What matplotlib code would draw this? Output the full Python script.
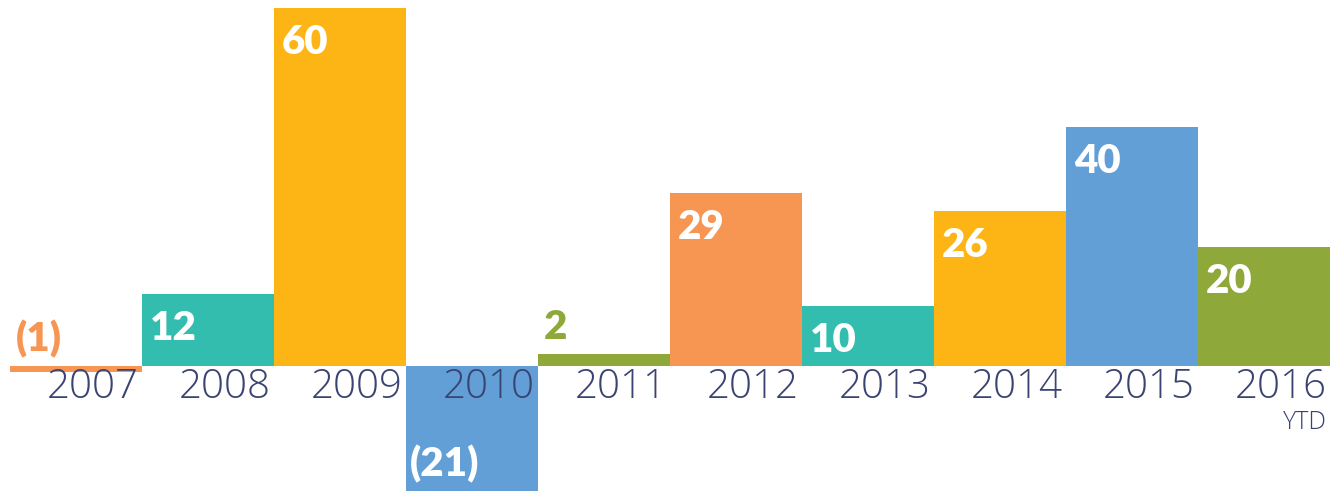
import matplotlib.pyplot as plt

years = ["2007", "2008", "2009", "2010", "2011", "2012", "2013", "2014", "2015", "2016"]
values = [-1, 12, 60, -21, 2, 29, 10, 26, 40, 20]
colors = ["#F79552", "#33BDAE", "#FDB515", "#619FD6", "#8EA93A",
          "#F79552", "#33BDAE", "#FDB515", "#619FD6", "#8EA93A"]
labels = ["(1)", "12", "60", "(21)", "2", "29", "10", "26", "40", "20"]

navy = "#3A4372"
px_per_unit = 358 / 60.0
W, H = 1344, 497
base_px = 131  # baseline height from the bottom, in pixels

fig = plt.figure(figsize=(W / 100, H / 100), dpi=100)
ax = fig.add_axes([10 / W, 0, 1320 / W, 1])
ax.set_xlim(-0.5, len(years) - 0.5)
ax.set_ylim(-base_px / px_per_unit, (H - base_px) / px_per_unit)
ax.axis("off")

x = list(range(len(years)))
ax.bar(x, values, width=1.0, color=colors, linewidth=0)

vfont = dict(family=["Lato", "DejaVu Sans"], fontweight="heavy", fontsize=29)
for i, (v, lab, c) in enumerate(zip(values, labels, colors)):
    left = i - 0.5
    if v >= 10:
        ax.annotate(lab, (left, v), xytext=(8, -16), textcoords="offset pixels",
                    ha="left", va="top", color="white", **vfont)
    elif v <= -10:
        ax.annotate(lab, (left, v), xytext=(4, 8), textcoords="offset pixels",
                    ha="left", va="bottom", color="white", **vfont)
    else:
        top = max(v, 0)
        ax.annotate(lab, (left, top), xytext=(6, 8), textcoords="offset pixels",
                    ha="left", va="bottom", color=c, **vfont)

yfont = dict(family=["Open Sans", "DejaVu Sans"], fontweight="light", color=navy)
for i, yr in enumerate(years):
    ax.annotate(yr, (i + 0.5, 0), xytext=(-3, -1), textcoords="offset pixels",
                ha="right", va="top", fontsize=29, **yfont)
ax.annotate("YTD", (len(years) - 0.5, 0), xytext=(-3, -44), textcoords="offset pixels",
            ha="right", va="top", fontsize=18, **yfont)

fig.savefig("out.png", dpi=100, facecolor="white")
